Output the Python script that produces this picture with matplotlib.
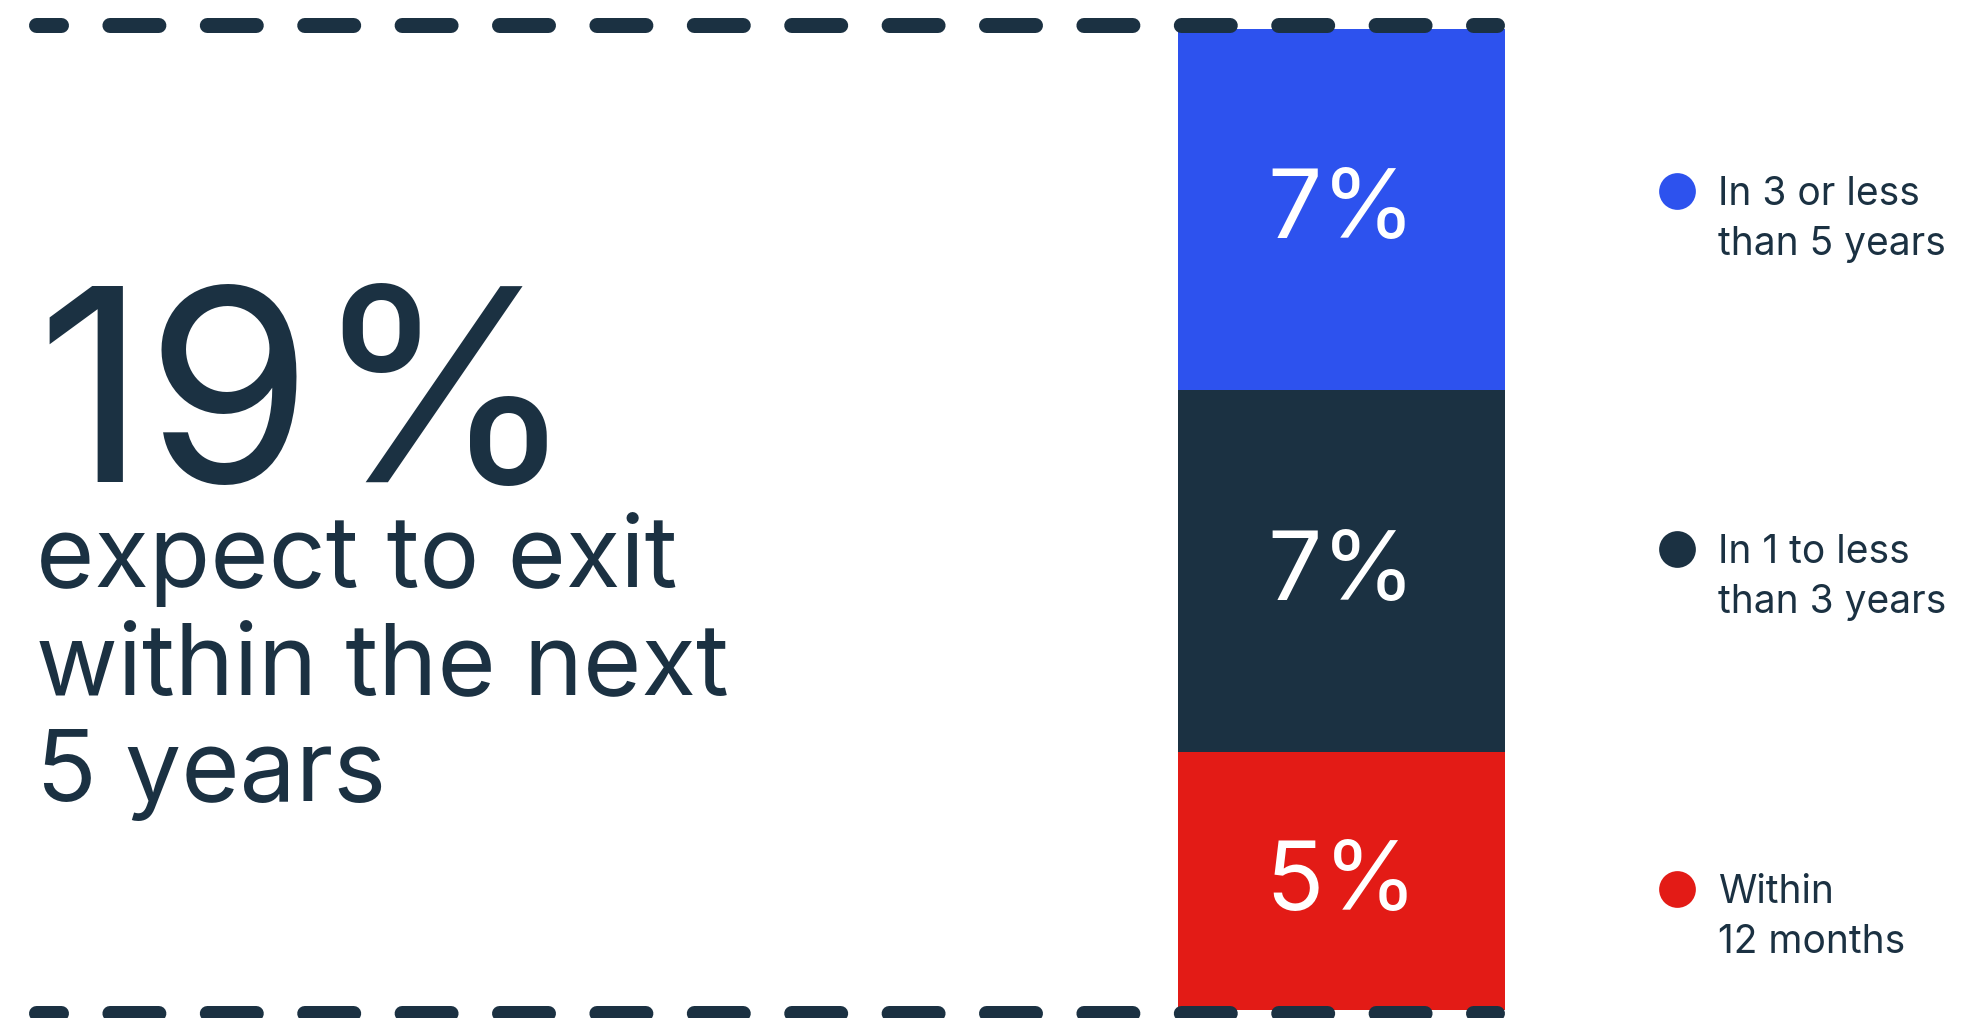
import numpy as np
import matplotlib.pyplot as plt

plt.rcParams['font.family'] = ['Inter', 'DejaVu Sans']
plt.rcParams['lines.scale_dashes'] = False

# exit timing shares, stacked bottom -> top
labels = ["Within\n12 months", "In 1 to less\nthan 3 years", "In 3 or less\nthan 5 years"]
values = [5, 7, 7]
colors = ["#E31B16", "#1B3142", "#2D52EE"]
headline = ["expect to exit", "within the next", "5 years"]

navy = "#1B3142"
W, H = 1975, 1018
fig = plt.figure(figsize=(W / 100, H / 100), dpi=100)
fig.patch.set_facecolor("white")

# stacked bar
bx0, bx1, by0, by1 = 1178, 1505, 29, 1010
bar_ax = fig.add_axes([bx0 / W, 1 - by1 / H, (bx1 - bx0) / W, (by1 - by0) / H])
bottom = 0
for v, c in zip(values, colors):
    bar_ax.bar(0, v, width=1, bottom=bottom, color=c, linewidth=0)
    bar_ax.text(0, bottom + v / 2 - 0.07, f"{v}%", ha="center", va="center",
                color="white", fontsize=69)
    bottom += v
bar_ax.set_xlim(-0.5, 0.5)
bar_ax.set_ylim(0, sum(values))
bar_ax.axis("off")

# overlay in pixel coords for text, dashes and legend
ax = fig.add_axes([0, 0, 1, 1], zorder=3)
ax.set_xlim(0, W)
ax.set_ylim(H, 0)
ax.axis("off")

lw = 15 * 0.72
dash = (24 * 0.72, (49 * 0.72, 48.4 * 0.72))
for y in (25, 1013):
    ax.plot([35.5, 1496.5], [y, y], color=navy, lw=lw, linestyle=dash,
            dash_capstyle="round")

ax.text(36, 482, f"{sum(values)}%", fontsize=194, color=navy, va="baseline", ha="left")
for i, line in enumerate(headline):
    ax.text(36, 587 + i * 107, line, fontsize=72, color=navy, va="baseline", ha="left")

# legend, top item first
leg_y = [903, 563, 205]
for lab, c, y in zip(labels, colors, leg_y):
    ax.scatter(1677, y - 14, s=700, color=c, linewidths=0)
    for j, part in enumerate(lab.split("\n")):
        ax.text(1718, y + j * 50, part, fontsize=28, color=navy, va="baseline", ha="left")

fig.savefig("out.png", dpi=100, facecolor="white")
